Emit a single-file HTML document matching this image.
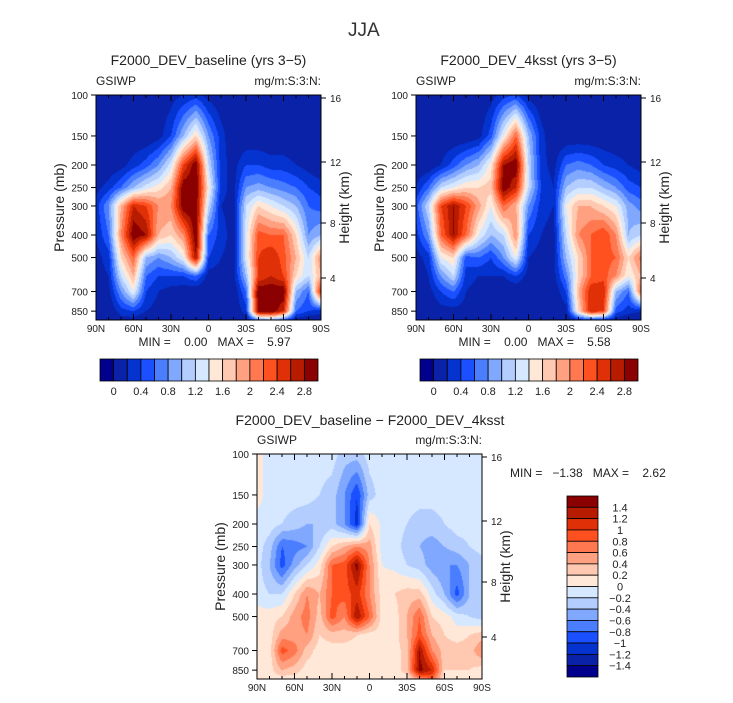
<!DOCTYPE html>
<html><head><meta charset="utf-8">
<style>
body{margin:0;background:#fff;width:733px;height:703px;overflow:hidden;position:relative;font-family:"Liberation Sans",sans-serif;color:#222}
.t{position:absolute;white-space:nowrap;line-height:1}
canvas{position:absolute}
svg{position:absolute;left:0;top:0}
svg text{white-space:pre}
</style></head><body>
<div class="t" style="left:348px;top:21px;font-size:19px;color:#333">JJA</div>
<canvas id="c1" width="225" height="225" style="left:96px;top:95px"></canvas>
<canvas id="c2" width="225" height="225" style="left:416px;top:95px"></canvas>
<canvas id="c3" width="225" height="225" style="left:257px;top:454px"></canvas>
<svg id="ov" width="733" height="703"></svg>
<script>
// pressure levels (mb) and latitudes (90N .. 90S)
const pressures=[100,150,200,250,300,400,500,600,700,850,925];
const lats=[90,80,70,60,50,40,30,20,10,0,-10,-20,-30,-40,-50,-60,-70,-80,-90];
const baselineField=[
[0,0,0,0,0,0,0.1,0.2,0.3,0.1,0,0,0,0,0,0,0,0,0],
[0,0,0,0,0,0.1,0.4,1.0,1.6,0.8,0.3,0,0,0,0,0,0,0,0],
[0,0,0.1,0.3,0.5,0.8,1.3,2.4,3.0,1.2,0.3,0.1,0.4,0.4,0.3,0.3,0.2,0.1,0],
[0.1,0.3,0.6,1.0,1.3,1.5,1.8,3.0,3.0,1.5,0.3,0.1,0.8,0.9,0.8,0.7,0.6,0.4,0.3],
[0.3,0.8,1.8,2.6,2.4,2.0,2.0,3.0,3.0,1.2,0.2,0.1,1.2,1.6,1.4,1.2,1.0,0.6,0.5],
[0.2,0.6,2.0,3.0,2.8,1.8,1.6,2.0,3.0,0.6,0.3,0.1,1.3,2.3,2.2,2.2,1.6,0.8,1.0],
[0.1,0.3,1.6,2.2,1.0,0.8,1.0,1.4,2.8,0.4,0.2,0.1,1.3,2.4,2.6,2.3,1.8,1.2,2.0],
[0.1,0.2,1.2,1.8,0.6,0.4,0.4,0.4,0.6,0.1,0.1,0.1,1.0,2.4,2.6,2.4,1.6,1.2,1.8],
[0,0.1,0.8,1.4,0.4,0.2,0.1,0.05,0,0,0,0,0.6,3.0,3.0,3.0,1.0,0.6,2.6],
[0,0,0.3,0.4,0.2,0.1,0,0,0,0,0,0,0.3,3.0,3.0,2.6,0.6,0.4,0.3],
[0,0,0.1,0.1,0,0,0,0,0,0,0,0,0.1,0.8,1.0,0.6,0.1,0,0]];
const ksstField=[
[0,0,0,0,0,0,0.1,0.3,0.4,0.1,0,0,0,0,0,0,0,0,0],
[0,0,0,0,0,0.1,0.5,1.4,2.2,1.0,0.3,0,0,0,0,0,0,0,0],
[0,0,0.2,0.5,0.8,1.0,1.5,2.8,3.0,1.2,0.3,0.1,0.6,0.7,0.6,0.4,0.3,0.2,0.1],
[0.2,0.6,1.2,1.4,1.6,1.6,1.7,3.0,2.6,1.2,0.4,0.2,1.0,1.2,1.2,1.0,0.8,0.5,0.4],
[0.5,1.2,2.4,2.8,2.4,1.9,1.4,2.2,1.8,0.8,0.3,0.2,1.4,1.8,1.8,1.6,1.4,0.9,0.7],
[0.3,0.8,2.2,2.8,2.2,1.4,1.0,1.2,2.0,0.4,0.2,0.1,1.2,2.0,2.2,2.4,2.0,1.0,1.2],
[0.1,0.3,1.4,1.6,0.5,0.6,0.4,0.8,1.4,0.2,0.1,0.1,1.0,1.6,2.2,2.3,2.2,1.6,2.1],
[0,0.2,0.8,1.2,0.3,0.2,0.2,0.2,0.4,0.1,0.1,0.1,0.7,1.6,2.2,2.3,2.0,1.4,1.8],
[0,0.1,0.4,0.6,0.2,0.1,0.05,0,0,0,0,0,0.4,1.8,2.6,2.6,1.0,0.6,2.2],
[0,0,0.1,0.1,0.1,0,0,0,0,0,0,0,0.1,1.6,2.6,2.4,0.5,0.3,0.2],
[0,0,0,0,0,0,0,0,0,0,0,0,0,0.3,0.5,0.4,0.1,0,0]];
const diffField=[
[0.1,-0.1,-0.1,-0.1,-0.1,-0.1,-0.1,-0.3,-0.3,-0.1,-0.1,-0.1,-0.1,-0.1,-0.1,-0.1,-0.1,-0.1,-0.1],
[0.1,-0.1,-0.1,-0.1,-0.1,-0.2,-0.3,-0.6,-1.0,-0.3,-0.1,-0.1,-0.1,-0.1,-0.1,-0.1,-0.1,-0.1,-0.1],
[-0.1,-0.1,-0.2,-0.3,-0.4,-0.4,-0.3,-0.6,-1.1,0.2,-0.05,-0.1,-0.2,-0.3,-0.3,-0.2,-0.1,-0.1,-0.1],
[-0.1,-0.3,-0.8,-0.7,-0.6,-0.2,0.2,0.4,0.6,0.5,-0.1,-0.1,-0.3,-0.4,-0.5,-0.4,-0.3,-0.2,-0.1],
[-0.1,-0.4,-0.9,-0.5,-0.2,0.1,0.8,0.9,1.5,0.6,0.0,-0.05,-0.2,-0.3,-0.5,-0.6,-0.6,-0.4,-0.3],
[-0.1,-0.2,-0.2,0.2,0.6,0.4,0.8,0.9,1.1,0.6,0.1,0.2,0.3,0.3,-0.1,-0.4,-0.9,-0.4,-0.4],
[0.1,0.1,0.2,0.5,0.7,0.3,0.9,0.6,1.4,0.8,0.1,0.1,0.4,0.8,0.2,0.1,-0.1,-0.2,-0.3],
[0.1,0.1,0.5,0.5,0.6,0.2,0.3,0.3,0.2,0.1,0.1,0.1,0.4,0.9,0.4,0.2,0.1,0.2,0.3],
[0.1,0.1,0.9,0.7,0.3,0.1,0.1,0.1,0.1,0.1,0.1,0.1,0.3,1.4,0.6,0.3,0.3,0.3,0.6],
[0.1,0.1,0.4,0.3,0.1,0.1,0.1,0.1,0.1,0.1,0.1,0.1,0.3,1.5,1.2,0.2,0.2,0.2,0.1],
[0.1,0.1,0.1,0.1,0.1,0.1,0.1,0.1,0.1,0.1,0.1,0.1,0.1,0.6,0.8,0.1,0.1,0.1,0.1]];
const absLevels=[0,0.2,0.4,0.6,0.8,1,1.2,1.4,1.6,1.8,2,2.2,2.4,2.6,2.8];
const diffLevels=[-1.4,-1.2,-1,-0.8,-0.6,-0.4,-0.2,0,0.2,0.4,0.6,0.8,1,1.2,1.4];
const absLabels=["0","0.4","0.8","1.2","1.6","2","2.4","2.8"];
const diffLabels=["1.4","1.2","1","0.8","0.6","0.4","0.2","0","\u22120.2","\u22120.4","\u22120.6","\u22120.8","\u22121","\u22121.2","\u22121.4"];
const pressureTicks=[100,150,200,250,300,400,500,700,850];
const heightTicks=[16,12,8,4];
const heightOffsets=[3,67,128,183];
const latTicks=["90N","60N","30N","0","30S","60S","90S"];
const colors=["#00008c","#0a22a8","#0533d0","#1a50ff","#4a7eff","#80a8ff","#b3cdff","#d6e8ff","#ffe8d8","#ffc8b0","#ffa080","#ff7850","#ff5020","#e03008","#b81c00","#8b0000"];

const PH=225,PW=225,pBot=925;
function yOfP(p){return 101*Math.log(p/100);}
function xOfLat(l){return (90-l)/180*PW;}
function draw(id,field,levels){
  const c=document.getElementById(id),ctx=c.getContext('2d');
  const lp=pressures.map(p=>Math.log(p));
  for(let py=0;py<PH;py++){
    const p=100*Math.exp((py+0.5)/101),l=Math.log(Math.min(p,pBot));
    let r=0;while(r<pressures.length-2&&lp[r+1]<l)r++;
    const fr=Math.max(0,Math.min(1,(l-lp[r])/(lp[r+1]-lp[r])));
    for(let px=0;px<PW;px++){
      const ci=(px+0.5)/PW*(lats.length-1);let c0=Math.min(Math.floor(ci),lats.length-2);const fc=ci-c0;
      const v=(field[r][c0]*(1-fc)+field[r][c0+1]*fc)*(1-fr)+(field[r+1][c0]*(1-fc)+field[r+1][c0+1]*fc)*fr;
      let k=0;while(k<levels.length&&v>=levels[k]-1e-9)k++;
      ctx.fillStyle=colors[k];ctx.fillRect(px,py,1,1);
    }
  }
}
draw('c1',baselineField,absLevels);draw('c2',ksstField,absLevels);draw('c3',diffField,diffLevels);

const NS='http://www.w3.org/2000/svg',ov=document.getElementById('ov');
function el(tag,a,txt){const e=document.createElementNS(NS,tag);for(const k in a)e.setAttribute(k,a[k]);if(txt!==undefined)e.textContent=txt;ov.appendChild(e);return e;}
function txt(x,y,s,size,anchor,name,rot){
  const e=el('text',{x:x,y:y,'font-size':size,'text-anchor':anchor||'start',fill:'#222','font-family':'Liberation Sans, sans-serif'},s);
  if(rot)e.setAttribute('transform','rotate(-90 '+x+' '+y+')');
  
  
  return e;
}
function panel(x0,y0,title,mm,pfx){
  const f=el('rect',{x:x0,y:y0,width:PW,height:PH,fill:'none',stroke:'#000','stroke-width':1});
  
  
  if(title)txt(x0+PW/2,y0-30,title,14,'middle',pfx+'-title');
  txt(x0,y0-10,'GSIWP',12,'start',pfx+'-variable-label');
  txt(x0+PW,y0-10,'mg/m:S:3:N:',12,'end',pfx+'-units-label');
  for(let l=90;l>=-90;l-=10){
    const x=x0+xOfLat(l),len=(l%30==0)?6:3;
    el('line',{x1:x,y1:y0,x2:x,y2:y0+len,stroke:'#000'});
    el('line',{x1:x,y1:y0+PH,x2:x,y2:y0+PH-len,stroke:'#000'});
  }
  latTicks.forEach((s,i)=>{txt(x0+i*PW/6,y0+PH+12,s,10,'middle',pfx+'-lat-tick-label');});
  pressureTicks.forEach(p=>{const y=y0+yOfP(p);el('line',{x1:x0-5,y1:y,x2:x0,y2:y,stroke:'#000'});txt(x0-8,y+4,String(p),10,'end',pfx+'-pressure-tick-label');});
  heightTicks.forEach((h,i)=>{const y=y0+heightOffsets[i];el('line',{x1:x0+PW,y1:y,x2:x0+PW+5,y2:y,stroke:'#000'});txt(x0+PW+9,y+4,String(h),10,'start',pfx+'-height-tick-label');});
  txt(x0-32,y0+PH/2,'Pressure (mb)',14,'middle',pfx+'-y-axis-title',true);
  txt(x0+PW+28,y0+PH/2,'Height (km)',14,'middle',pfx+'-right-axis-title',true);
  if(mm)txt(x0+PW/2+6,y0+PH+26,mm,12,'middle',pfx+'-min-max');
}
panel(96,95,'F2000_DEV_baseline (yrs 3\u22125)','MIN =    0.00   MAX =    5.97','baseline');
panel(416,95,'F2000_DEV_4ksst (yrs 3\u22125)','MIN =    0.00   MAX =    5.58','ksst');
panel(257,454,null,null,'diff');
txt(370,425,'F2000_DEV_baseline \u2212 F2000_DEV_4ksst',14,'middle','diff-title');
txt(510,477,'MIN =   \u22121.38   MAX =    2.62',12,'start','diff-min-max');
function hbar(x0,y0,w,h,pfx){
  const bw=w/16;
  colors.forEach((c,i)=>{const r=el('rect',{x:x0+i*bw,y:y0,width:bw,height:h,fill:c,stroke:'#000','stroke-width':0.8});});
  absLabels.forEach((s,i)=>{txt(x0+(1+2*i)*bw,y0+h+14,s,11,'middle',pfx+'-colorbar-label');});
}
hbar(100,359,218,22,'baseline');hbar(420,359,218,22,'ksst');
(function(){const x0=567,y0=496,w=31,h=181,bh=h/16;
  for(let i=0;i<16;i++){const r=el('rect',{x:x0,y:y0+i*bh,width:w,height:bh,fill:colors[15-i],stroke:'#000','stroke-width':0.8});}
  diffLabels.forEach((s,i)=>{txt(x0+w+22,y0+(i+1)*bh+4,s,11,'middle','diff-colorbar-label');});
})();
</script>
</body></html>
